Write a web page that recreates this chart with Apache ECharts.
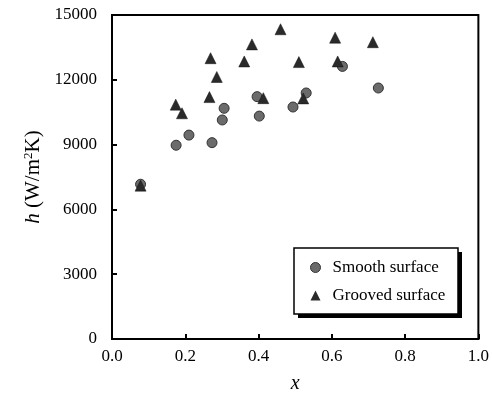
<!DOCTYPE html>
<html>
<head>
<meta charset="utf-8">
<script src="https://cdn.jsdelivr.net/npm/echarts@6/dist/echarts.min.js"></script>
<style>
html,body{margin:0;padding:0;background:#fff;}
#chart{width:492px;height:399px;}
</style>
</head>
<body>
<div id="chart"></div>
<script>
// Smooth surface: [x, h]
const smoothX = [0.078, 0.175, 0.210, 0.273, 0.301, 0.306, 0.396, 0.402, 0.494, 0.530, 0.629, 0.727];
const smoothH = [7165, 8970, 9440, 9090, 10140, 10680, 11220, 10320, 10740, 11390, 12620, 11620];
// Grooved surface: [x, h]
const groovedX = [0.078, 0.174, 0.191, 0.269, 0.266, 0.286, 0.361, 0.382, 0.413, 0.460, 0.510, 0.522, 0.609, 0.616, 0.712];
const groovedH = [7100, 10850, 10450, 13000, 11200, 12130, 12850, 13640, 11150, 14340, 12820, 11140, 13950, 12850, 13740];
const xTicks = [0, 0.2, 0.4, 0.6, 0.8, 1.0];
const yTicks = [0, 3000, 6000, 9000, 12000, 15000];
const seriesNames = ['Smooth surface', 'Grooved surface'];

const smoothData = smoothX.map((x, i) => [x, smoothH[i]]);
const groovedData = groovedX.map((x, i) => [x, groovedH[i]]);

const font = 'Liberation Serif';
const chart = echarts.init(document.getElementById('chart'), null, {renderer: 'canvas'});
chart.setOption({
  backgroundColor: '#fff',
  animation: false,
  grid: {left: 112, right: 11, top: 15, bottom: 59, show: true, borderColor: '#000', borderWidth: 2, backgroundColor: 'transparent'},
  graphic: [
    {type: 'rect', z: 10, shape: {x: 298, y: 252, width: 164, height: 66}, style: {fill: '#000'}},
    {type: 'rect', z: 11, shape: {x: 294, y: 248, width: 164, height: 66}, style: {fill: '#fff', stroke: '#000', lineWidth: 1.5}}
  ],
  legend: {
    orient: 'vertical',
    left: 310, top: 259,
    padding: 0,
    itemGap: 11,
    itemWidth: 10, itemHeight: 10,
    z: 20,
    textStyle: {fontFamily: font, fontSize: 17, color: '#000', padding: [0, 0, 0, 7]},
    data: [
      {name: seriesNames[0], icon: 'circle', itemStyle: {color: '#6b6b6b', borderColor: '#333', borderWidth: 1}},
      {name: seriesNames[1], icon: 'triangle', itemStyle: {color: '#2a2a2a', borderWidth: 0}}
    ]
  },
  xAxis: {
    type: 'value', min: xTicks[0], max: xTicks[xTicks.length - 1], interval: 0.2,
    name: 'x', nameLocation: 'middle', nameGap: 35,
    nameTextStyle: {fontFamily: font, fontSize: 20, fontStyle: 'italic', color: '#000'},
    axisLine: {show: true, lineStyle: {color: '#000', width: 2}},
    axisTick: {show: true, inside: true, length: 5, lineStyle: {color: '#000', width: 2}},
    axisLabel: {fontFamily: font, fontSize: 17, color: '#000', margin: 9, formatter: v => v.toFixed(1)},
    splitLine: {show: false}
  },
  yAxis: {
    type: 'value', min: yTicks[0], max: yTicks[yTicks.length - 1], interval: 3000,
    name: '{i|h} {n|(W/m}{s|2}{n|K)}', nameLocation: 'middle', nameGap: 61, nameRotate: 90,
    nameTextStyle: {
      fontFamily: font, fontSize: 21, color: '#000',
      rich: {
        i: {fontFamily: font, fontSize: 21, fontStyle: 'italic', color: '#000'},
        n: {fontFamily: font, fontSize: 21, color: '#000'},
        s: {fontFamily: font, fontSize: 13, color: '#000', verticalAlign: 'top', padding: [0, 0, 9, 0]}
      }
    },
    axisLine: {show: true, lineStyle: {color: '#000', width: 2}},
    axisTick: {show: true, inside: true, length: 5, lineStyle: {color: '#000', width: 2}},
    axisLabel: {fontFamily: font, fontSize: 17, color: '#000', margin: 15, formatter: v => String(v)},
    splitLine: {show: false}
  },
  series: [
    {
      name: seriesNames[0], type: 'scatter', symbol: 'circle', symbolSize: 10,
      itemStyle: {color: '#6b6b6b', borderColor: '#333', borderWidth: 1, opacity: 1},
      data: smoothData, z: 2
    },
    {
      name: seriesNames[1], type: 'scatter', symbol: 'triangle', symbolSize: 11,
      itemStyle: {color: '#2a2a2a', borderColor: '#111', borderWidth: 0.5, opacity: 1},
      data: groovedData, z: 3
    }
  ]
});
</script>
</body>
</html>
